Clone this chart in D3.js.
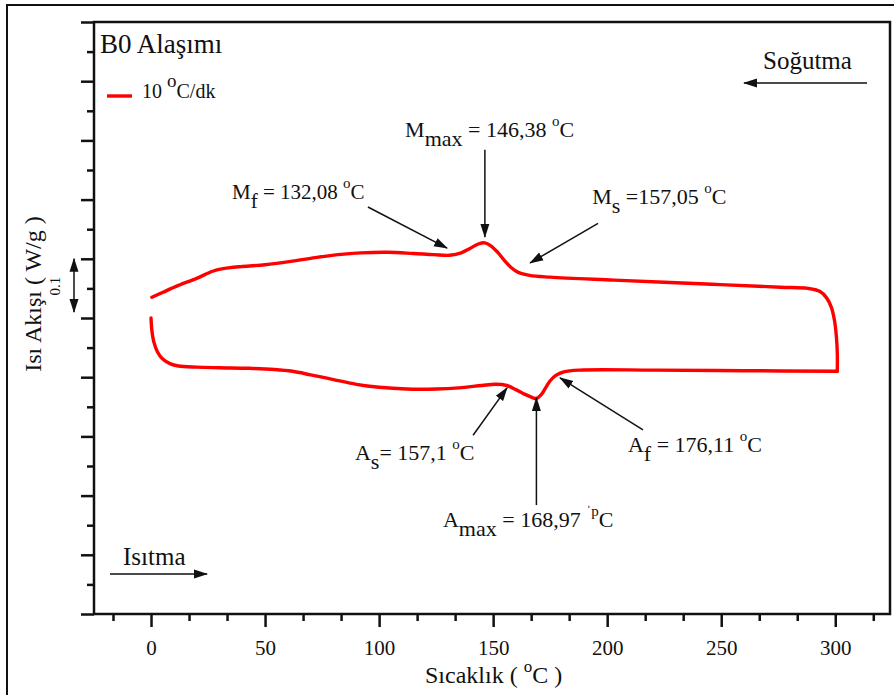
<!DOCTYPE html>
<html>
<head>
<meta charset="utf-8">
<script src="https://cdn.jsdelivr.net/npm/d3@7"></script>
<style>
  html, body { margin: 0; padding: 0; background: #fff; }
  svg { display: block; }
  svg text { font-family: "Liberation Serif", "DejaVu Serif", serif; fill: #111; }
</style>
</head>
<body>
<svg id="chart" width="894" height="695" font-family="Liberation Serif"></svg>
<script>
// DSC thermogram of alloy B0 at 10 °C/dk: heating branch then cooling branch
const heatTemp = [0, 0.4, 1.2, 2.8, 5.0, 8.3, 12, 20, 30, 43, 54, 62, 70, 80, 90, 100, 112, 125, 135, 145, 151, 156, 160, 164, 167, 168.97, 171, 173, 175, 177.5, 181, 188, 220, 260, 300.9];
const heatFlow = [0.500, 0.478, 0.460, 0.443, 0.431, 0.423, 0.419, 0.417, 0.416, 0.415, 0.413, 0.410, 0.404, 0.396, 0.388, 0.383, 0.380, 0.380, 0.382, 0.386, 0.388, 0.386, 0.379, 0.371, 0.366, 0.364, 0.370, 0.382, 0.394, 0.403, 0.409, 0.412, 0.412, 0.411, 0.410];

const coolTemp = [300.9, 300.9, 300.5, 299.7, 298.3, 296.2, 293.2, 288, 276, 246, 203, 175, 166, 161, 158, 155, 152, 149, 146.38, 143.5, 140, 136, 131, 124, 115, 104, 92, 82, 72, 62, 50, 40, 31, 27, 20, 12, 5, 0.4];
const coolFlow = [0.410, 0.440, 0.468, 0.495, 0.518, 0.534, 0.545, 0.550, 0.552, 0.557, 0.564, 0.569, 0.572, 0.577, 0.585, 0.597, 0.611, 0.622, 0.627, 0.625, 0.618, 0.610, 0.606, 0.607, 0.609, 0.611, 0.610, 0.607, 0.602, 0.596, 0.590, 0.587, 0.583, 0.579, 0.567, 0.555, 0.543, 0.535];

const xMajorTicks = [0, 50, 100, 150, 200, 250, 300];
const xMinorTicks = [-16.67, 16.67, 33.33, 66.67, 83.33, 116.67, 133.33, 166.67, 183.33, 216.67, 233.33, 266.67, 283.33, 316.67];
const yMajorTicks = [0, 0.1, 0.2, 0.3, 0.4, 0.5, 0.6, 0.7, 0.8, 0.9, 1.0];
const yMinorTicks = [0.05, 0.15, 0.25, 0.35, 0.45, 0.55, 0.65, 0.75, 0.85, 0.95];

// Transformation temperatures: label pieces, label anchor, arrow tail and arrow tip (°C, W/g)
const transLabels = [
  { parts: [["M",""],["f","sub"],[" = 132,08 ",""],["o","sup"],["C",""]], at: [35.5, 0.701], tail: [95.1, 0.6875], tip: [129.8, 0.618], size: 21 },
  { parts: [["M",""],["max","sub"],[" = 146,38 ",""],["o","sup"],["C",""]], at: [111.4, 0.806], tail: [146.38, 0.784], tip: [146.38, 0.637], size: 22 },
  { parts: [["M",""],["s","sub"],[" =157,05 ",""],["o","sup"],["C",""]], at: [193.4, 0.6926], tail: [196.0, 0.660], tip: [166.2, 0.593], size: 22 },
  { parts: [["A",""],["s","sub"],["= 157,1 ",""],["o","sup"],["C",""]], at: [89.4, 0.260], tail: [141.2, 0.302], tip: [156.1, 0.382], size: 22 },
  { parts: [["A",""],["max","sub"],[" = 168,97 ",""],["\u02C8p","sup"],["C",""]], at: [128.0, 0.147], tail: [168.97, 0.184], tip: [168.97, 0.365], size: 22 },
  { parts: [["A",""],["f","sub"],[" = 176,11 ",""],["o","sup"],["C",""]], at: [209.1, 0.274], tail: [215.7, 0.311], tip: [179.3, 0.399], size: 22 }
];

const FONT = "Liberation Serif";
const svg = d3.select("#chart");
const plotLeft = 94, plotRight = 890, plotTop = 22, plotBottom = 614;

const x = d3.scaleLinear().domain([-25, 324]).range([plotLeft, plotRight]);
const y = d3.scaleLinear().domain([0, 1]).range([plotBottom, plotTop]);

// outer frame
svg.append("rect").attr("x", 7).attr("y", 5).attr("width", 900).attr("height", 700)
  .attr("fill", "none").attr("stroke", "#111").attr("stroke-width", 2);

// arrow head marker
const defs = svg.append("defs");
defs.append("marker").attr("id", "head")
  .attr("markerUnits", "userSpaceOnUse")
  .attr("viewBox", "0 0 14 10").attr("refX", 13).attr("refY", 5)
  .attr("markerWidth", 14).attr("markerHeight", 10).attr("orient", "auto-start-reverse")
  .append("path").attr("d", "M0,0.5 L14,5 L0,9.5 Z").attr("fill", "#111");

// bottom axis with long and short ticks
const xAxisMajor = d3.axisBottom(x).tickValues(xMajorTicks).tickSize(13).tickPadding(13).tickFormat(d3.format("d"));
const xAxisMinor = d3.axisBottom(x).tickValues(xMinorTicks).tickSize(7).tickFormat("");
const gxMinor = svg.append("g").attr("transform", `translate(0,${plotBottom})`).call(xAxisMinor);
const gx = svg.append("g").attr("transform", `translate(0,${plotBottom})`).call(xAxisMajor);
[gx, gxMinor].forEach(g => {
  g.attr("font-family", FONT);
  g.select(".domain").remove();
  g.selectAll(".tick line").attr("stroke", "#111").attr("stroke-width", 2.5);
});
gx.selectAll(".tick text").attr("font-size", 21).attr("font-family", FONT).attr("fill", "#111");

// left axis: ticks only, no labels
const yAxisMajor = d3.axisLeft(y).tickValues(yMajorTicks).tickSize(13).tickFormat("");
const yAxisMinor = d3.axisLeft(y).tickValues(yMinorTicks).tickSize(7).tickFormat("");
[yAxisMinor, yAxisMajor].forEach(ax => {
  const g = svg.append("g").attr("transform", `translate(${plotLeft},0)`).call(ax);
  g.select(".domain").remove();
  g.selectAll(".tick line").attr("stroke", "#111").attr("stroke-width", 2.5);
});

// plot frame
svg.append("rect").attr("x", plotLeft).attr("y", plotTop).attr("width", plotRight - plotLeft).attr("height", plotBottom - plotTop)
  .attr("fill", "none").attr("stroke", "#111").attr("stroke-width", 2.5);

// thermogram
const line = d3.line().x(d => x(d[0])).y(d => y(d[1])).curve(d3.curveCatmullRom.alpha(0.5));
const heating = heatTemp.map((t, i) => [t, heatFlow[i]]);
const cooling = coolTemp.map((t, i) => [t, coolFlow[i]]);
[heating, cooling].forEach(pts => {
  svg.append("path").attr("d", line(pts)).attr("fill", "none")
    .attr("stroke", "#ff0000").attr("stroke-width", 3.4)
    .attr("stroke-linecap", "round").attr("stroke-linejoin", "round");
});

// rich text with subscripts and superscripts
function richText(g, px, py, parts, size, supSize) {
  const t = g.append("text").attr("x", px).attr("y", py)
    .attr("font-size", size).attr("font-family", FONT);
  let shift = 0;
  parts.forEach(([s, kind]) => {
    const target = kind === "sub" ? 9 : kind === "sup" ? -11 : 0;
    const span = t.append("tspan").attr("dy", target - shift).text(s);
    if (kind === "sup") span.attr("font-size", supSize);
    shift = target;
  });
  return t;
}

// annotations
transLabels.forEach(a => {
  svg.append("line")
    .attr("x1", x(a.tail[0])).attr("y1", y(a.tail[1]))
    .attr("x2", x(a.tip[0])).attr("y2", y(a.tip[1]))
    .attr("stroke", "#111").attr("stroke-width", 1.5).attr("marker-end", "url(#head)");
  richText(svg, x(a.at[0]), y(a.at[1]), a.parts, a.size, 15).style("white-space", "pre");
});

// title and legend
svg.append("text").attr("x", 100).attr("y", 53).attr("font-size", 27).attr("font-family", FONT).text("B0 Alaşımı");
svg.append("line").attr("x1", 107).attr("x2", 132).attr("y1", 96).attr("y2", 96)
  .attr("stroke", "#ff0000").attr("stroke-width", 3.4);
richText(svg, 142, 98, [["10 ",""],["o","sup"],["C/dk",""]], 20, 19).style("white-space", "pre");

// direction hints
svg.append("text").attr("x", 763).attr("y", 69).attr("font-size", 25).attr("font-family", FONT).text("Soğutma");
svg.append("line").attr("x1", 867).attr("y1", 83).attr("x2", 744).attr("y2", 83)
  .attr("stroke", "#111").attr("stroke-width", 1.5).attr("marker-end", "url(#head)");
svg.append("text").attr("x", 123).attr("y", 565).attr("font-size", 25).attr("font-family", FONT).text("Isıtma");
svg.append("line").attr("x1", 110).attr("y1", 574).attr("x2", 207).attr("y2", 574)
  .attr("stroke", "#111").attr("stroke-width", 1.5).attr("marker-end", "url(#head)");

// axis titles
richText(svg, 425, 683, [["Sıcaklık ( ",""],["o","sup"],["C )",""]], 24, 17).style("white-space", "pre");
svg.append("text").attr("transform", "translate(41,294) rotate(-90)")
  .attr("text-anchor", "middle").attr("font-size", 24).attr("font-family", FONT).style("white-space", "pre")
  .text("Isı Akışı ( W/g )");
svg.append("text").attr("transform", "translate(60,286) rotate(-90)")
  .attr("text-anchor", "middle").attr("font-size", 15).attr("font-family", FONT).text("0.1");

// 0.1 W/g scale bar
svg.append("line").attr("x1", 74).attr("x2", 74).attr("y1", y(0.6)).attr("y2", y(0.51))
  .attr("stroke", "#111").attr("stroke-width", 1.5)
  .attr("marker-start", "url(#head)").attr("marker-end", "url(#head)");
</script>
</body>
</html>
